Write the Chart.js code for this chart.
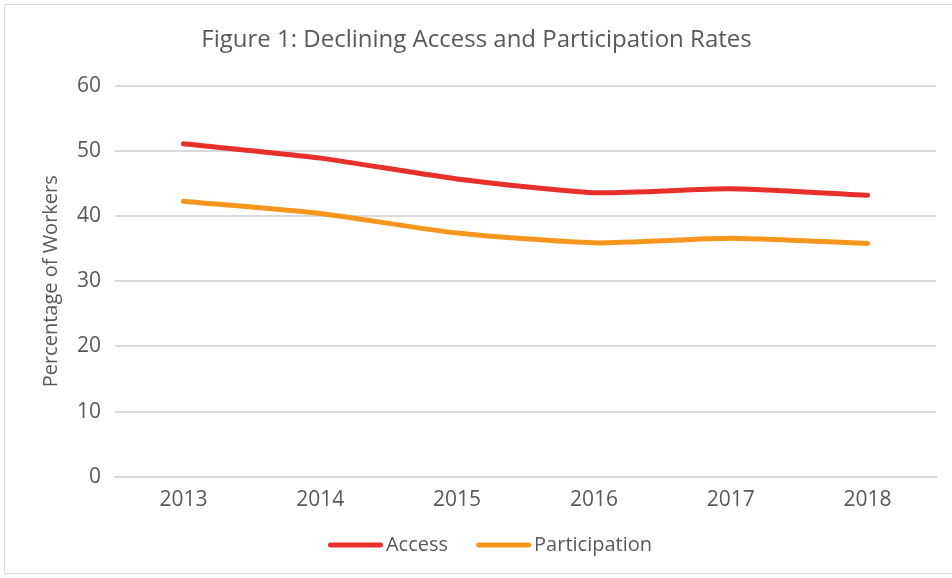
<!DOCTYPE html>
<html><head><meta charset="utf-8">
<script src="https://cdn.jsdelivr.net/npm/chart.js@4"></script>
<style>
html,body{margin:0;padding:0;background:#fff;}
#frame{position:absolute;left:4px;top:4px;width:960px;height:570px;border:1px solid #d9d9d9;box-sizing:border-box;}
#wrap{position:absolute;left:0;top:0;width:952px;height:578px;}
</style></head>
<body>
<div id="frame"></div>
<div id="wrap"><canvas id="c" width="952" height="578"></canvas></div>
<script>
const years = ['2013','2014','2015','2016','2017','2018'];
const accessRates = [51.1, 48.9, 45.7, 43.6, 44.2, 43.2];
const participationRates = [42.3, 40.4, 37.4, 35.9, 36.6, 35.8];
const yTicks = [0, 10, 20, 30, 40, 50, 60];
const seriesNames = ['Access', 'Participation'];

const FONT = "'Open Sans', sans-serif";
const TXT = '#595959';
const COLORS = ['#E8302A', '#F7961E'];

// Legend drawn with a tight gap between line sample and label, like the reference
const lineLegend = {
  id: 'lineLegend',
  afterDraw(chart) {
    const ctx = chart.ctx;
    ctx.save();
    ctx.font = "20px " + FONT;
    const sw = 55, gap = 3, itemGap = 28;
    const items = chart.data.datasets.map(d => ({label: d.label, color: d.borderColor, w: sw + gap + ctx.measureText(d.label).width}));
    const total = items.reduce((a, it) => a + it.w, 0) + itemGap * (items.length - 1);
    let x = 490 - total / 2;
    const y = 545;
    items.forEach(it => {
      ctx.strokeStyle = it.color;
      ctx.lineWidth = 5;
      ctx.lineCap = 'round';
      ctx.beginPath();
      ctx.moveTo(x + 2.5, y);
      ctx.lineTo(x + sw - 2.5, y);
      ctx.stroke();
      ctx.fillStyle = TXT;
      ctx.textBaseline = 'middle';
      ctx.textAlign = 'left';
      ctx.fillText(it.label, x + sw + gap, y);
      x += it.w + itemGap;
    });
    ctx.restore();
  }
};

new Chart(document.getElementById('c'), {
  type: 'line',
  data: {
    labels: years,
    datasets: [
      {label: seriesNames[0], data: accessRates, borderColor: COLORS[0], backgroundColor: COLORS[0], borderWidth: 5, pointRadius: 0, tension: 0.2, borderCapStyle: 'round', borderJoinStyle: 'round'},
      {label: seriesNames[1], data: participationRates, borderColor: COLORS[1], backgroundColor: COLORS[1], borderWidth: 5, pointRadius: 0, tension: 0.2, borderCapStyle: 'round', borderJoinStyle: 'round'}
    ]
  },
  plugins: [lineLegend],
  options: {
    responsive: false,
    animation: false,
    layout: {padding: {left: 17, right: 16, top: 16, bottom: 54}},
    plugins: {
      title: {display: true, text: 'Figure 1: Declining Access and Participation Rates', color: TXT, font: {family: FONT, size: 24, weight: 'normal'}, padding: {top: 10, bottom: 31}},
      legend: {display: false},
      tooltip: {enabled: false}
    },
    scales: {
      x: {offset: true, grid: {display: false, drawTicks: false}, border: {color: '#d9d9d9', width: 2}, ticks: {color: TXT, font: {family: FONT, size: 21}, padding: 11}},
      y: {min: 0, max: 60, afterBuildTicks: (s) => { s.ticks = yTicks.map(v => ({value: v})); },
        grid: {color: '#d9d9d9', lineWidth: 2, drawTicks: false}, border: {display: false},
        ticks: {color: TXT, font: {family: FONT, size: 21}, padding: 14},
        title: {display: true, text: 'Percentage of Workers', color: TXT, font: {family: FONT, size: 20}, padding: {top: 22, bottom: 0}}}
    }
  }
});
</script>
</body></html>
